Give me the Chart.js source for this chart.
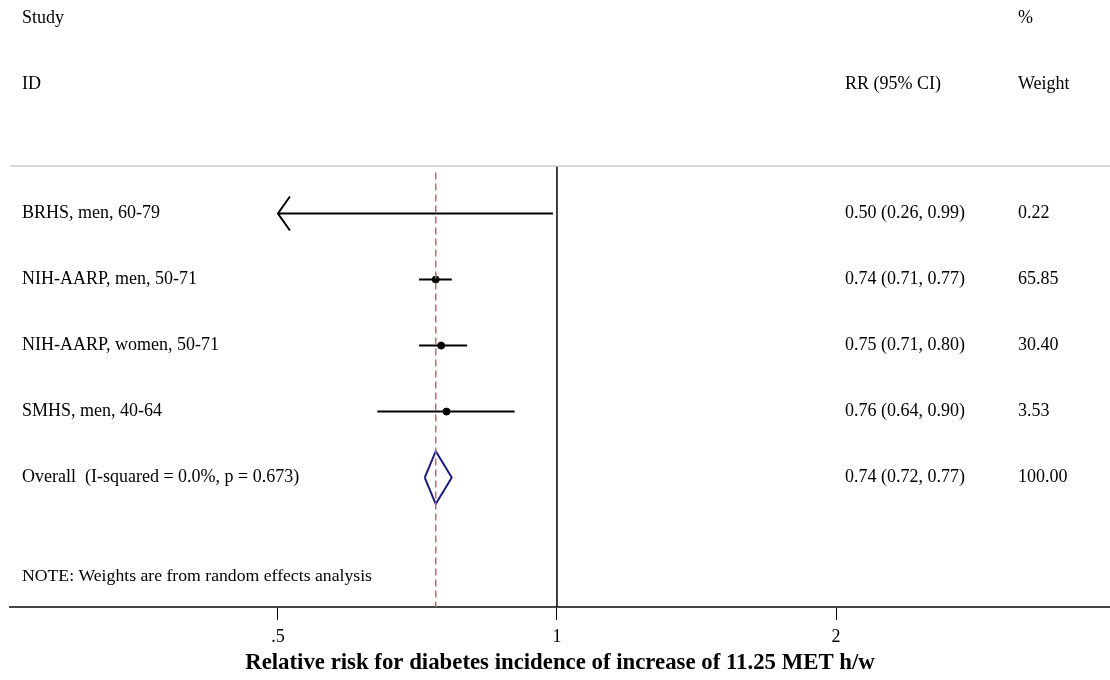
<!DOCTYPE html>
<html>
<head>
<meta charset="utf-8">
<script src="https://cdn.jsdelivr.net/npm/chart.js@4/dist/chart.umd.min.js"></script>
<style>
  html, body { margin: 0; padding: 0; background: #ffffff; }
  #wrap { width: 1110px; height: 680px; }
</style>
</head>
<body>
<div id="wrap"><canvas id="c" width="1110" height="680"></canvas></div>
<script>
// ---- data ----
const studies = ['BRHS, men, 60-79', 'NIH-AARP, men, 50-71', 'NIH-AARP, women, 50-71', 'SMHS, men, 40-64'];
const rr = [0.50, 0.74, 0.75, 0.76];
const ciLow = [0.26, 0.71, 0.71, 0.64];
const ciHigh = [0.99, 0.77, 0.80, 0.90];
const rrText = ['0.50 (0.26, 0.99)', '0.74 (0.71, 0.77)', '0.75 (0.71, 0.80)', '0.76 (0.64, 0.90)'];
const weightText = ['0.22', '65.85', '30.40', '3.53'];
const rows = [1, 2, 3, 4];

const overallLabel = 'Overall  (I-squared = 0.0%, p = 0.673)';
const overallRR = 0.74;
const overallLow = 0.72;
const overallHigh = 0.77;
const overallText = '0.74 (0.72, 0.77)';
const overallWeight = '100.00';
const overallRow = 5;

const noteText = 'NOTE: Weights are from random effects analysis';
const noteRow = 6.5;

const tickValues = [0.5, 1, 2];
const tickLabels = ['.5', '1', '2'];
const clipMin = 0.5, clipMax = 2;
const xMin = 0.257, xMax = 3.95;
const yMin = 0.28, yMax = 6.96;
const axisTitle = 'Relative risk for diabetes incidence of increase of 11.25 MET h/w';

// ---- datasets ----
const FONT = "'Liberation Serif', 'Times New Roman', serif";
const datasets = [];

// null line at 1
datasets.push({
  type: 'line', data: [{x: 1, y: yMin}, {x: 1, y: yMax}],
  borderColor: '#000', borderWidth: 1.5, pointRadius: 0, fill: false
});
// overall dashed line
datasets.push({
  type: 'line', data: [{x: overallRR, y: yMin + 0.1}, {x: overallRR, y: yMax}],
  borderColor: '#b07474', borderWidth: 1.5, borderDash: [7, 4], pointRadius: 0, fill: false
});
// CI lines
studies.forEach((s, i) => {
  datasets.push({
    type: 'line',
    data: [{x: Math.max(ciLow[i], clipMin), y: rows[i]}, {x: Math.min(ciHigh[i], clipMax), y: rows[i]}],
    borderColor: '#000', borderWidth: 2, pointRadius: 0, fill: false
  });
});
// point estimates
datasets.push({
  type: 'scatter',
  data: rr.map((v, i) => ({x: v, y: rows[i]})).filter(p => p.x > clipMin && p.x < clipMax),
  backgroundColor: '#000', borderColor: '#000', pointRadius: 3.5, pointHoverRadius: 3.5
});
// overall diamond
const dh = 0.4;
datasets.push({
  type: 'line',
  data: [
    {x: overallLow, y: overallRow}, {x: overallRR, y: overallRow - dh},
    {x: overallHigh, y: overallRow}, {x: overallRR, y: overallRow + dh},
    {x: overallLow, y: overallRow}
  ],
  borderColor: '#1c1c80', borderWidth: 2, pointRadius: 0, fill: false, tension: 0
});

// ---- plugin for text columns and decorations ----
const forestText = {
  id: 'forestText',
  afterDraw(chart) {
    const ctx = chart.ctx;
    const xs = chart.scales.x, ys = chart.scales.y;
    const area = chart.chartArea;
    ctx.save();
    // top rule
    ctx.strokeStyle = '#cccccc';
    ctx.lineWidth = 1.5;
    ctx.beginPath();
    ctx.moveTo(area.left, area.top);
    ctx.lineTo(area.right, area.top);
    ctx.stroke();

    // arrows for clipped CIs
    ctx.strokeStyle = '#000';
    ctx.lineWidth = 2;
    studies.forEach((s, i) => {
      const py = ys.getPixelForValue(rows[i]);
      if (ciLow[i] < clipMin) {
        const px = xs.getPixelForValue(clipMin);
        ctx.beginPath();
        ctx.moveTo(px + 12, py - 17);
        ctx.lineTo(px, py);
        ctx.lineTo(px + 12, py + 17);
        ctx.stroke();
      }
      if (ciHigh[i] > clipMax) {
        const px = xs.getPixelForValue(clipMax);
        ctx.beginPath();
        ctx.moveTo(px - 12, py - 17);
        ctx.lineTo(px, py);
        ctx.lineTo(px - 12, py + 17);
        ctx.stroke();
      }
    });

    ctx.fillStyle = '#000';
    ctx.textBaseline = 'middle';
    ctx.textAlign = 'left';
    ctx.font = '18px ' + FONT;
    const xLabel = 22, xRR = 845, xW = 1018;
    // header
    ctx.fillText('Study', xLabel, 18);
    ctx.fillText('ID', xLabel, 84);
    ctx.fillText('RR (95% CI)', xRR, 84);
    ctx.fillText('%', xW, 18);
    ctx.fillText('Weight', xW, 84);
    // rows
    studies.forEach((s, i) => {
      const py = ys.getPixelForValue(rows[i]);
      ctx.fillText(s, xLabel, py);
      ctx.fillText(rrText[i], xRR, py);
      ctx.fillText(weightText[i], xW, py);
    });
    const po = ys.getPixelForValue(overallRow);
    ctx.fillText(overallLabel, xLabel, po);
    ctx.fillText(overallText, xRR, po);
    ctx.fillText(overallWeight, xW, po);
    // note
    ctx.font = '17.7px ' + FONT;
    ctx.fillText(noteText, xLabel, ys.getPixelForValue(noteRow));
    ctx.restore();
  }
};

new Chart(document.getElementById('c'), {
  type: 'scatter',
  data: { datasets },
  options: {
    responsive: false,
    devicePixelRatio: 1,
    animation: false,
    events: [],
    layout: { autoPadding: false, padding: { left: 10, right: 0, top: 166, bottom: 0 } },
    plugins: { legend: { display: false }, tooltip: { enabled: false } },
    scales: {
      x: {
        type: 'logarithmic',
        min: xMin, max: xMax,
        afterBuildTicks(scale) { scale.ticks = tickValues.map(v => ({ value: v })); },
        afterFit(scale) { scale.height = 73; },
        ticks: {
          autoSkip: false, maxRotation: 0, padding: 6,
          color: '#000', font: { family: FONT, size: 18 },
          callback(value, index) { return tickLabels[index]; }
        },
        grid: { display: true, drawOnChartArea: false, drawTicks: true, tickLength: 13, color: '#000', lineWidth: 1 },
        border: { display: true, color: '#444', width: 2 },
        title: {
          display: true, text: axisTitle, color: '#000',
          font: { family: FONT, size: 22.8, weight: 'bold' },
          padding: { top: 0, bottom: 3 }
        }
      },
      y: {
        type: 'linear', reverse: true, min: yMin, max: yMax, display: false
      }
    }
  },
  plugins: [forestText]
});
</script>
</body>
</html>
